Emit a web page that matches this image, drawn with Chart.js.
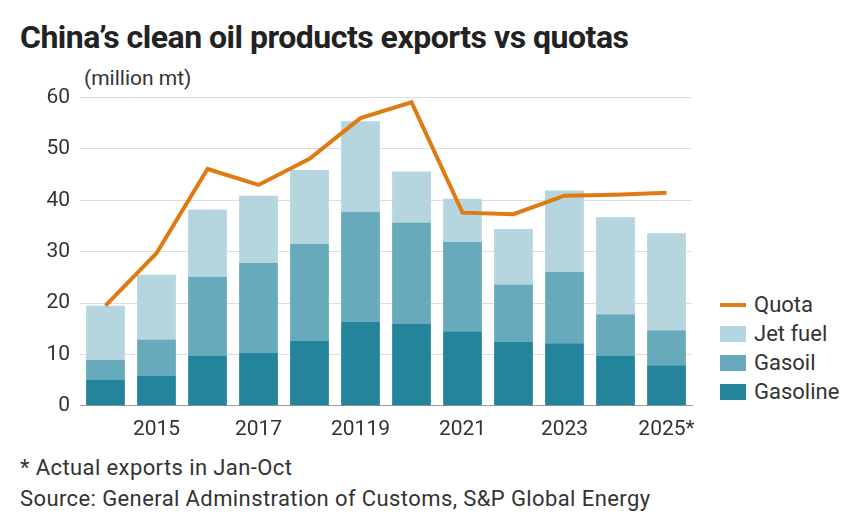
<!DOCTYPE html>
<html><head><meta charset="utf-8">
<script src="https://cdn.jsdelivr.net/npm/chart.js@4/dist/chart.umd.min.js"></script>
<style>
body{margin:0;background:#fff;font-family:Roboto,"Noto Sans",sans-serif;color:#222;width:866px;height:516px;position:relative;overflow:hidden}
#title{position:absolute;left:20px;top:18px;font-size:32px;font-weight:700;letter-spacing:-0.5px}
#unit{position:absolute;left:84px;top:66px;font-size:21px;color:#333}
#wrap{position:absolute;left:0;top:75px;width:700px;height:370px}
#legend{position:absolute;left:720px;top:290px;font-size:22px;color:#333}
.li{display:flex;align-items:center;height:29px}
.sw{width:26px;height:16px;margin-right:8px}
#foot{position:absolute;left:20px;top:452px;font-size:22px;color:#333;line-height:31px;letter-spacing:0.4px}
</style></head><body>
<div id="title">China’s clean oil products exports vs quotas</div>
<div id="unit">(million mt)</div>
<div id="wrap"><canvas id="c"></canvas></div>
<div id="legend">
 <div class="li"><div class="sw" style="height:4px;background:#DE7B12"></div>Quota</div>
 <div class="li"><div class="sw" style="background:#B5D6DE"></div>Jet fuel</div>
 <div class="li"><div class="sw" style="background:#67AABB"></div>Gasoil</div>
 <div class="li"><div class="sw" style="background:#23849B"></div>Gasoline</div>
</div>
<div id="foot">* Actual exports in Jan-Oct<br>Source: General Adminstration of Customs, S&amp;P Global Energy</div>
<script>
const years = ['2014','2015','2016','2017','20119','2019','2020','2021','2022','2023','2024','2025*'];
const tickLabels = ['', '2015', '', '2017', '', '20119', '', '2021', '', '2023', '', '2025*'];
const gasoline = [5.0, 5.8, 9.7, 10.4, 12.7, 16.4, 16.0, 14.5, 12.5, 12.2, 9.7, 7.9];
const gasoil   = [3.9, 7.1, 15.4, 17.4, 18.8, 21.4, 19.7, 17.4, 11.1, 13.9, 8.1, 6.8];
const jetFuel  = [10.6, 12.6, 13.1, 13.1, 14.4, 17.6, 9.9, 8.4, 10.8, 15.8, 18.9, 18.9];
const quota    = [19.5, 29.7, 46.1, 43.0, 48.1, 56.0, 59.1, 37.6, 37.3, 40.9, 41.1, 41.5];

const tickFont = {family: 'Roboto, "Noto Sans", sans-serif', size: 21};

new Chart(document.getElementById('c'), {
    type: 'bar',
    data: {
        labels: years,
        datasets: [
            {type: 'line', label: 'Quota', data: quota, yAxisID: 'y2', borderColor: '#DE7B12',
             borderWidth: 4, pointRadius: 0, tension: 0, order: 0},
            {label: 'Gasoline', data: gasoline, backgroundColor: '#23849B', order: 1},
            {label: 'Gasoil', data: gasoil, backgroundColor: '#67AABB', order: 1},
            {label: 'Jet fuel', data: jetFuel, backgroundColor: '#B5D6DE', order: 1}
        ]
    },
    options: {
        responsive: true, maintainAspectRatio: false, animation: false,
        layout: {padding: {top: 10, right: 8, bottom: 0, left: 0}},
        plugins: {legend: {display: false}, tooltip: {enabled: false}},
        datasets: {bar: {categoryPercentage: 0.8, barPercentage: 0.95}},
        scales: {
            x: {stacked: true, grid: {display: false}, border: {color: '#999'},
                ticks: {font: tickFont, color: '#333', maxRotation: 0, autoSkip: false,
                        callback: (v, i) => tickLabels[i]}},
            y: {stacked: true, min: 0, max: 60, border: {display: false},
                grid: {color: '#ddd', drawTicks: false},
                afterFit: s => { s.width = 80; },
                ticks: {stepSize: 10, font: tickFont, color: '#333', padding: 10}},
            y2: {display: false, min: 0, max: 60}
        }
    }
});
</script>
</body></html>
